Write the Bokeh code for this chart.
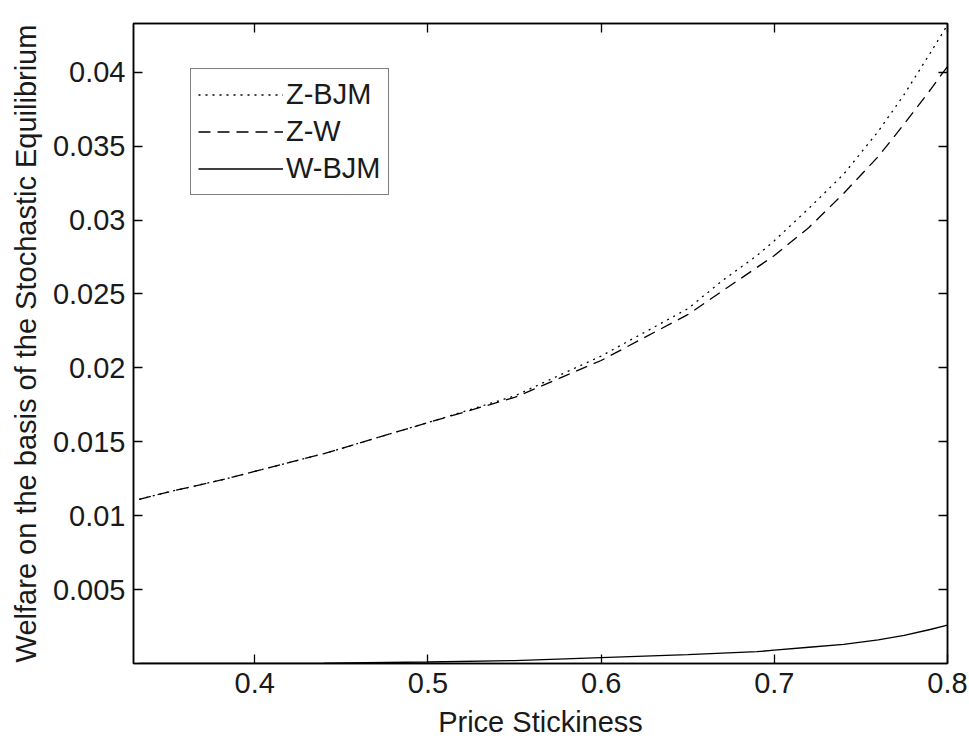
from bokeh.plotting import figure
from bokeh.models import (Range1d, FixedTicker, LinearAxis, Legend, LegendItem,
                          CustomJSTickFormatter)
from bokeh.embed import file_html
from bokeh.resources import INLINE

# ---- data ----
price_stickiness = [0.3333, 0.35, 0.38, 0.40, 0.44, 0.50, 0.55, 0.60, 0.65,
                    0.67, 0.69, 0.70, 0.72, 0.74, 0.76, 0.775, 0.79, 0.80]
z_bjm = [0.0111, 0.0116, 0.0124, 0.0130, 0.0142, 0.0163, 0.0181, 0.0208, 0.0240,
         0.0259, 0.0276, 0.0286, 0.0308, 0.0331, 0.0360, 0.0385, 0.0413, 0.0432]
z_w = [0.0111, 0.0116, 0.0124, 0.0130, 0.0142, 0.0163, 0.0180, 0.0205, 0.0236,
       0.0252, 0.0268, 0.0276, 0.0295, 0.0318, 0.0343, 0.0365, 0.0388, 0.0404]
w_bjm = [0.0, 0.0, 0.0, 0.00001, 0.00003, 0.0001, 0.0002, 0.0004, 0.0006,
         0.0007, 0.0008, 0.0009, 0.0011, 0.0013, 0.0016, 0.0019, 0.0023, 0.0026]
series_names = ["Z-BJM", "Z-W", "W-BJM"]

x_ticks = [0.4, 0.5, 0.6, 0.7, 0.8]
x_tick_labels = ["0.4", "0.5", "0.6", "0.7", "0.8"]
y_ticks = [0.005, 0.01, 0.015, 0.02, 0.025, 0.03, 0.035, 0.04]
y_tick_labels = ["0.005", "0.01", "0.015", "0.02", "0.025", "0.03", "0.035", "0.04"]
x_label = "Price Stickiness"
y_label = "Welfare on the basis of the Stochastic Equilibrium"

FONT = "Liberation Sans"
FS = "29px"
TXT = "#1a1a1a"

p = figure(width=969, height=740, output_backend="svg", toolbar_location=None,
           x_range=Range1d(0.33, 0.8), y_range=Range1d(0.0, 0.0433),
           min_border_left=133, min_border_right=22, min_border_top=23,
           min_border_bottom=77, background_fill_color="white",
           border_fill_color="white")
p.grid.visible = False
p.outline_line_color = "black"
p.outline_line_width = 1.5

bottom_axis = p.below[0]
left_axis = p.left[0]

bottom_axis.ticker = FixedTicker(ticks=x_ticks)
bottom_axis.major_label_overrides = dict(zip(x_ticks, x_tick_labels))
bottom_axis.axis_label = x_label
left_axis.ticker = FixedTicker(ticks=y_ticks)
left_axis.major_label_overrides = dict(zip(y_ticks, y_tick_labels))
left_axis.axis_label = y_label

top_axis = LinearAxis(ticker=FixedTicker(ticks=x_ticks),
                      formatter=CustomJSTickFormatter(code="return ''"))
right_axis = LinearAxis(ticker=FixedTicker(ticks=y_ticks),
                        formatter=CustomJSTickFormatter(code="return ''"))
p.add_layout(top_axis, "above")
p.add_layout(right_axis, "right")

for ax in [bottom_axis, left_axis, top_axis, right_axis]:
    ax.axis_line_color = "black"
    ax.axis_line_width = 1.5
    ax.major_tick_line_color = "black"
    ax.major_tick_line_width = 1.3
    ax.major_tick_in = 9
    ax.major_tick_out = 0
    ax.minor_tick_line_color = None
    ax.major_label_text_font = FONT
    ax.major_label_text_font_size = FS
    ax.major_label_text_color = TXT
    ax.axis_label_text_font = FONT
    ax.axis_label_text_font_size = FS
    ax.axis_label_text_font_style = "normal"
    ax.axis_label_text_color = TXT
for ax in [top_axis, right_axis]:
    ax.major_label_standoff = 0
    ax.major_label_text_font_size = "0px"
bottom_axis.major_label_standoff = 9
bottom_axis.axis_label_standoff = 10
left_axis.major_label_standoff = 8
left_axis.axis_label_standoff = 8

styles = [dict(line_dash="2 5"), dict(line_dash="12 7"), dict(line_dash="solid")]
renderers = []
for ys, st in zip([z_bjm, z_w, w_bjm], styles):
    r = p.line(price_stickiness, ys, line_color="black", line_width=1.3, **st)
    renderers.append(r)

legend = Legend(items=[LegendItem(label=n, renderers=[r])
                       for n, r in zip(series_names, renderers)],
                location=(57, 468), glyph_width=85, glyph_height=37,
                label_height=37, spacing=0, padding=7, margin=0,
                label_standoff=3, label_text_font=FONT, label_text_font_size=FS,
                label_text_color=TXT, border_line_color="black",
                border_line_width=1.5, background_fill_color="white",
                background_fill_alpha=1.0)
p.add_layout(legend)

open("out.html", "w").write(file_html(p, INLINE))
